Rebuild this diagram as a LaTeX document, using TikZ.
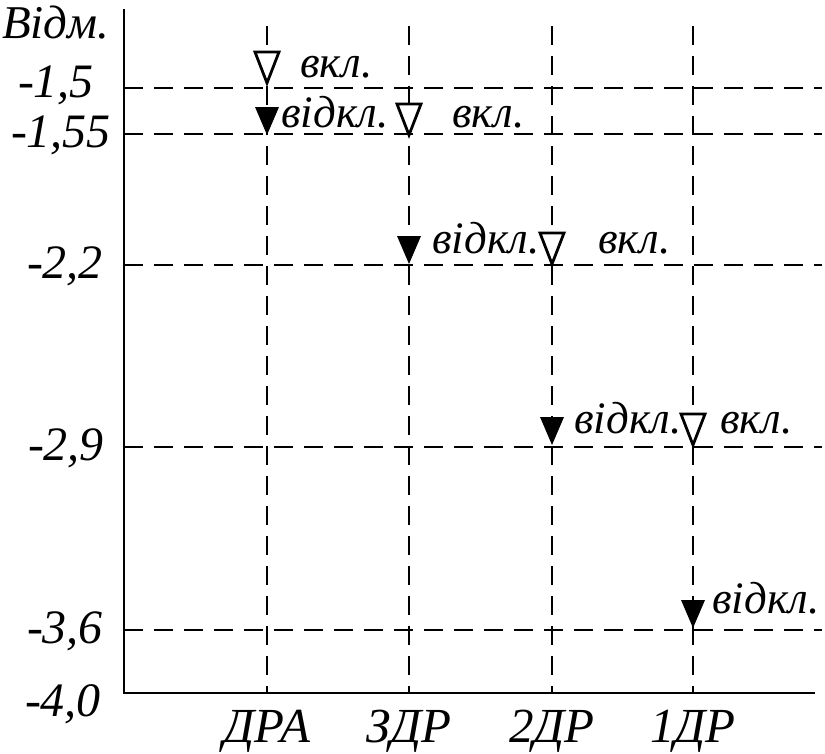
\documentclass[tikz,border=0pt]{standalone}
\usepackage{fontspec}
\setmainfont{Liberation Serif}
\usetikzlibrary{positioning,calc}

\begin{document}
\begin{tikzpicture}[
    x=1pt, y=-1pt,
    axisline/.style={line width=2.4pt},
    gridline/.style={
        line width=1.7pt,
        dash pattern=on 19pt off 11pt
    },
    valtext/.style={
        font=\fontsize{48}{50}\selectfont\itshape,
        inner sep=0pt,
        anchor=base
    },
    devtext/.style={
        font=\fontsize{49}{51}\selectfont\itshape,
        inner sep=0pt,
        anchor=base
    },
    swtext/.style={
        font=\fontsize{45}{47}\selectfont\itshape,
        inner sep=0pt,
        anchor=base west
    },
    onmark/.pic={
        \draw[line width=2.8pt, line join=miter, fill=white]
            (-12,-31) -- (12,-31) -- (0,0) -- cycle;
    },
    offmark/.pic={
        \fill (-12,-28) -- (12,-28) -- (0,0) -- cycle;
    }
]
\useasboundingbox (0,0) rectangle (825,753);

% axes
\coordinate (org) at (124,693);
\coordinate (ytop) at (124,9);
\coordinate (xend) at (815,693);

% columns
\foreach \n/\x in {dra/267, zdr/409, dr2/552, dr1/693}{
    \coordinate (\n-top) at (\x,26);
    \coordinate (\n-bot) at (\x,693);
    \draw[gridline] (\n-top) -- (\n-bot);
}

% rows
\foreach \n/\y in {r15/88, r155/134, r22/265, r29/447, r36/630}{
    \coordinate (\n-l) at (124,\y);
    \coordinate (\n-r) at (822,\y);
    \draw[gridline] (\n-l) -- (\n-r);
}

\draw[axisline] (ytop) -- (org) -- (xend);

% values
\node[font=\fontsize{47}{49}\selectfont\itshape, inner sep=0pt, anchor=base west]
    (head) at (2,38) {Відм.};
\node[valtext] (v15)  at (56,97)  {-1,5};
\node[valtext] (v155) at (61,147) {-1,55};
\node[valtext] (v22)  at (65,278) {-2,2};
\node[valtext] (v29)  at (66,460) {-2,9};
\node[valtext] (v36)  at (65,643) {-3,6};
\node[valtext] (v40)  at (63,716) {-4,0};

% devices
\node[devtext] (ddra) at (dra-bot |- 0,742) {ДРА};
\node[devtext] (dzdr) at (zdr-bot |- 0,742) {ЗДР};
\node[devtext] (ddr2) at (dr2-bot |- 0,742) {2ДР};
\node[devtext] (ddr1) at (dr1-bot |- 0,742) {1ДР};

% switching
\pic at (267,83)  {onmark};
\node[swtext] (on1) at (300,77) {вкл.};
\pic at (267,135) {offmark};
\node[swtext] (off1) at (281,127) {відкл.};

\pic at (409,135) {onmark};
\node[swtext] (on2) at (452,127) {вкл.};
\pic at (409,264) {offmark};
\node[swtext] (off2) at (432,253) {відкл.};

\pic at (552,264) {onmark};
\node[swtext] (on3) at (598,253) {вкл.};
\pic at (552,445) {offmark};
\node[swtext] (off3) at (574,433) {відкл.};

\pic at (693,445) {onmark};
\node[swtext] (on4) at (720,433) {вкл.};
\pic at (693,628) {offmark};
\node[swtext] (off4) at (712,613) {відкл.};

\end{tikzpicture}
\end{document}
